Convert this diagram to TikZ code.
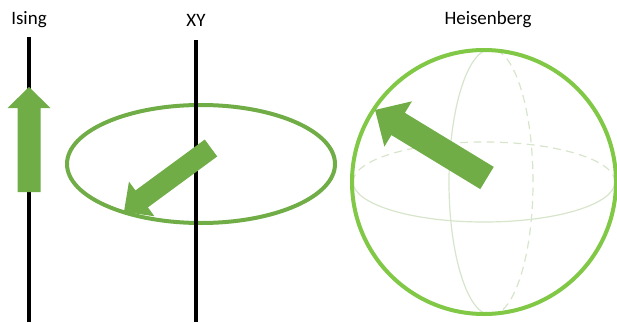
\documentclass[tikz,border=0pt]{standalone}
\usepackage{fontspec}
\setmainfont{Carlito}
\usetikzlibrary{positioning}

\definecolor{spingreen}{RGB}{112,173,71}
\definecolor{ballgreen}{RGB}{128,200,70}
\definecolor{gridgreen}{RGB}{214,229,203}

% block arrow: tail, angle, length, half shaft, half head, head length
\newcommand{\spinarrow}[6]{%
  \fill[spingreen,shift={#1},rotate=#2]
    (0,-#4) -- ({#3-#6},-#4) -- ({#3-#6},-#5) -- (#3,0)
    -- ({#3-#6},#5) -- ({#3-#6},#4) -- (0,#4) -- cycle;}

\begin{document}
\begin{tikzpicture}[
  x=0.75pt,y=0.75pt,
  axis/.style={line width=3pt,black},
  label/.style={font=\fontsize{14.2}{16}\selectfont,inner sep=0pt},
  orbit/.style={spingreen,line width=3pt},
  ball/.style={ballgreen,line width=3pt},
  front/.style={gridgreen,line width=0.9pt},
  back/.style={gridgreen,line width=0.9pt,dash pattern=on 6pt off 4pt}
]
  \useasboundingbox (0,0) rectangle (617,322);

  % Ising
  \node[label] (ising) at (29,302) {Ising};
  \coordinate (isingtop) at (29,285);
  \coordinate (isingbot) at (29,0);
  \draw[axis] (isingtop) -- (isingbot);
  \spinarrow{(29,130)}{90}{105}{11.5}{21.5}{21}

  % XY
  \node[label] (xy) at (196,302) {XY};
  \coordinate (xytop) at (196,282);
  \coordinate (xybot) at (196,0);
  \draw[orbit] (201,158) ellipse [x radius=134,y radius=59];
  \draw[axis] (xytop) -- (xybot);
  \spinarrow{(211,174)}{216.3}{108}{10.5}{21.5}{22}

  % Heisenberg
  \node[label] (heis) at (488,302) {Heisenberg};
  \draw[back] (615,140) arc [start angle=0,end angle=180,x radius=131,y radius=40];
  \draw[front] (353,140) arc [start angle=180,end angle=360,x radius=131,y radius=40];
  \draw[front] (491,273) arc [start angle=90,end angle=270,x radius=42,y radius=133];
  \draw[back] (491,7) arc [start angle=-90,end angle=90,x radius=42,y radius=133];
  \draw[ball] (484,140) circle [radius=132];
  \spinarrow{(487,144)}{148.7}{131}{13}{26.5}{27}
\end{tikzpicture}
\end{document}
